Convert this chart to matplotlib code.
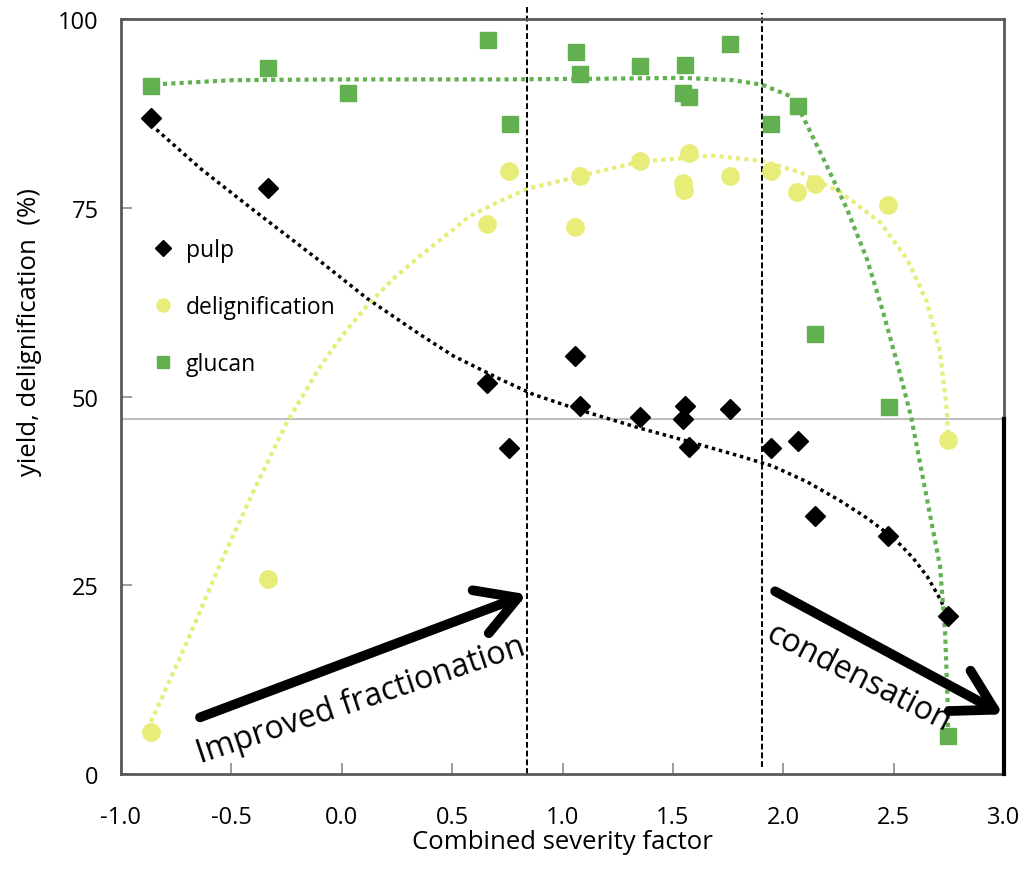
import matplotlib
matplotlib.use('Agg')
import matplotlib.pyplot as plt

plt.rcParams['font.family'] = ['Open Sans', 'DejaVu Sans']

# measured points
pulp_x = [-0.864, -0.334, 0.658, 0.758, 1.057, 1.079, 1.351, 1.555, 1.546, 1.573, 1.759, 1.944, 2.067, 2.144, 2.475, 2.746]
pulp_y = [86.9, 77.6, 51.8, 43.2, 55.4, 48.7, 47.3, 48.7, 47.0, 43.3, 48.3, 43.2, 44.1, 34.2, 31.5, 20.9]

delig_x = [-0.864, -0.334, 0.658, 0.758, 1.057, 1.079, 1.351, 1.546, 1.551, 1.573, 1.759, 1.944, 2.062, 2.144, 2.475, 2.746]
delig_y = [5.6, 25.8, 72.8, 79.9, 72.4, 79.2, 81.2, 78.3, 77.4, 82.3, 79.2, 79.9, 77.1, 78.1, 75.4, 44.2]

glucan_x = [-0.864, -0.334, 0.028, 0.662, 0.762, 1.061, 1.079, 1.351, 1.555, 1.546, 1.573, 1.759, 1.944, 2.067, 2.144, 2.479, 2.746]
glucan_y = [91.1, 93.5, 90.2, 97.2, 86.1, 95.6, 92.7, 93.8, 93.9, 90.2, 89.7, 96.7, 86.1, 88.5, 58.3, 48.6, 5.0]

# trend lines
pulp_fit_x = [-0.864, -0.64, -0.40, -0.11, 0.114, 0.35, 0.504, 0.717, 0.866, 1.079, 1.351, 1.564, 1.804, 1.95, 2.108, 2.257, 2.379, 2.470, 2.529, 2.588, 2.651, 2.710, 2.746]
pulp_fit_y = [86.0, 80.2, 74.7, 68.2, 63.0, 58.3, 55.4, 52.3, 50.3, 48.2, 45.8, 44.1, 42.1, 40.8, 38.7, 36.2, 33.9, 31.9, 30.4, 28.6, 26.2, 23.2, 21.0]

delig_fit_x = [-0.864, -0.701, -0.551, -0.402, -0.248, -0.099, 0.0, 0.114, 0.23, 0.354, 0.581, 0.717, 0.839, 1.079, 1.351, 1.682, 1.904, 2.076, 2.257, 2.438, 2.561, 2.651, 2.710, 2.742, 2.746]
delig_fit_y = [6.9, 17.5, 27.8, 37.3, 46.6, 53.9, 58.0, 62.0, 65.5, 68.6, 73.9, 75.9, 77.5, 79.2, 81.1, 81.9, 81.2, 79.7, 77.1, 73.1, 68.2, 62.5, 55.9, 47.9, 44.5]

glucan_fit_x = [-0.81, -0.493, 0.0, 0.717, 1.2, 1.546, 1.772, 1.904, 2.031, 2.09, 2.198, 2.289, 2.379, 2.452, 2.520, 2.579, 2.651, 2.710, 2.733, 2.746, 2.746]
glucan_fit_y = [91.4, 91.9, 92.0, 92.0, 92.1, 92.2, 91.9, 91.3, 89.8, 87.0, 80.5, 74.8, 68.2, 61.2, 54.0, 47.3, 36.4, 27.5, 18.8, 8.2, 6.0]

x_ticks = [-1.0, -0.5, 0.0, 0.5, 1.0, 1.5, 2.0, 2.5, 3.0]
y_ticks = [0, 25, 50, 75, 100]

region_lines = [0.839, 1.904]
ref_level = 47.0

# annotation arrows: (start, tip)
arrow_up = ((-0.642, 7.5), (0.839, 23.8))
arrow_down = ((1.963, 24.2), (2.996, 7.9))

black = '#000000'
yellow = '#E8EC78'
green = '#62B04F'

fig = plt.figure(figsize=(10.21, 8.70), dpi=100)
ax = fig.add_axes([0.1185, 0.1092, 0.8649, 0.8678])

# fitted curves
ax.plot(pulp_fit_x, pulp_fit_y, color=black, lw=2.5, ls=(0, (1, 1.1)), zorder=2)
ax.plot(delig_fit_x, delig_fit_y, color=yellow, lw=3.0, ls=(0, (1, 1.0)), zorder=2)
ax.plot(glucan_fit_x, glucan_fit_y, color=green, lw=3.0, ls=(0, (1, 1.0)), zorder=2)

# data
h_pulp, = ax.plot(pulp_x, pulp_y, ls='none', marker='D', ms=10.5, color=black, label='pulp', zorder=4)
h_delig, = ax.plot(delig_x, delig_y, ls='none', marker='o', ms=12.5, color=yellow, label='delignification', zorder=3)
h_gluc, = ax.plot(glucan_x, glucan_y, ls='none', marker='s', ms=11.5, color=green, label='glucan', zorder=3)

# reference lines
ax.axhline(ref_level, color='#bfbfbf', lw=1.5, zorder=1)
ax.axvline(region_lines[0], ymin=0, ymax=1.016, color=black, lw=1.4, ls=(0, (3, 1.5)), clip_on=False, zorder=2)
ax.axvline(region_lines[1], ymin=0.009, ymax=1.008, color=black, lw=1.4, ls=(0, (3, 1.5)), clip_on=False, zorder=2)
ax.plot([3.0, 3.0], [0, ref_level], color=black, lw=3, clip_on=False, zorder=5)

# arrows + text
for start, tip in (arrow_up, arrow_down):
    ax.annotate('', xy=tip, xytext=start,
                arrowprops=dict(arrowstyle='->,head_length=1.3,head_width=0.75',
                                lw=7, color=black, mutation_scale=22,
                                shrinkA=0, shrinkB=0))
ax.text(0.087, 9.9, 'Improved fractionation', rotation=18.5, rotation_mode='anchor',
        ha='center', va='center', fontsize=23)
ax.text(2.339, 12.8, 'condensation', rotation=-27, rotation_mode='anchor',
        ha='center', va='center', fontsize=23)

ax.set_xlim(-1.0, 3.0)
ax.set_ylim(0, 100)
ax.set_xticks(x_ticks)
ax.set_xticklabels([f'{v:.1f}' for v in x_ticks])
ax.set_yticks(y_ticks)
ax.tick_params(direction='in', length=8, width=1.2, color='#8c8c8c', labelsize=17)
ax.tick_params(axis='x', pad=22)
ax.tick_params(axis='y', pad=16)

ax.set_xlabel('Combined severity factor', fontsize=18.5, labelpad=0)
ax.set_ylabel('yield, delignification  (%)', fontsize=18.5)
ax.yaxis.set_label_coords(-0.09, 0.587)

for side in ['top', 'left', 'bottom', 'right']:
    ax.spines[side].set_color('#595959')
    ax.spines[side].set_linewidth(2)

ax.legend(handles=[h_pulp, h_delig, h_gluc], loc='upper left', bbox_to_anchor=(0.037, 0.710),
          frameon=False, fontsize=16.5, markerscale=0.75, handlelength=0.8, handletextpad=0.6,
          labelspacing=1.45, borderpad=0, borderaxespad=0)

fig.savefig('out.png', dpi=100)
